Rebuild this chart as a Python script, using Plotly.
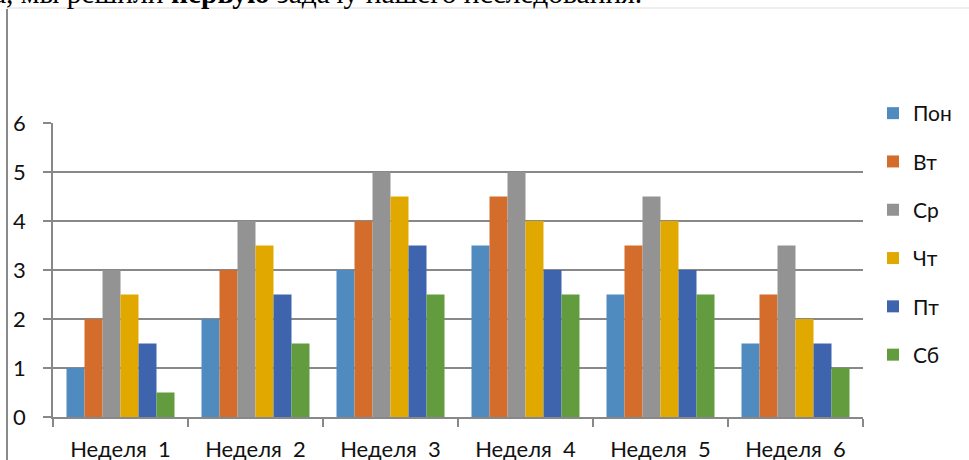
import plotly.graph_objects as go

weeks = ["Неделя  1", "Неделя  2", "Неделя  3", "Неделя  4", "Неделя  5", "Неделя  6"]
days = ["Пон", "Вт", "Ср", "Чт", "Пт", "Сб"]
mon = [1, 2, 3, 3.5, 2.5, 1.5]
tue = [2, 3, 4, 4.5, 3.5, 2.5]
wed = [3, 4, 5, 5, 4.5, 3.5]
thu = [2.5, 3.5, 4.5, 4, 4, 2]
fri = [1.5, 2.5, 3.5, 3, 3, 1.5]
sat = [0.5, 1.5, 2.5, 2.5, 2.5, 1]
series = [mon, tue, wed, thu, fri, sat]
colors = ["#508BBF", "#D46D2B", "#939393", "#E1A900", "#3E64AE", "#639B3F"]

W, H = 969, 460
L, R, T, B = 53, 863, 123, 417
FONT = "Lato"
GRID = "#888888"


def px(x):
    return (x - L) / (R - L)


def py(y):
    return (B - y) / (B - T)


fig = go.Figure()
for i, (name, vals) in enumerate(zip(days, series)):
    fig.add_trace(go.Bar(x=weeks, y=vals, name=name, marker_color=colors[i],
                         marker_line_width=0, legendgroup=name))

fig.update_layout(
    width=W, height=H,
    margin=dict(l=L, r=W - R, t=T, b=H - B, pad=0, autoexpand=False),
    paper_bgcolor="white", plot_bgcolor="white",
    barmode="group", bargap=0.2, bargroupgap=0,
    font=dict(family=FONT, size=22, color="#111111"),
    showlegend=True,
    legend=dict(x=px(873), y=py(93), xanchor="left", yanchor="top",
                tracegroupgap=18, font=dict(size=21), itemwidth=30,
                maxheight=440, bgcolor="rgba(0,0,0,0)"),
    xaxis=dict(showline=True, linecolor=GRID, linewidth=1.5, ticks="outside",
               ticklen=8, tickcolor=GRID, tickwidth=1.5, tickson="boundaries",
               ticklabelstandoff=12, showgrid=False, automargin=False),
    yaxis=dict(range=[0, 6], dtick=1, showline=True, linecolor=GRID, linewidth=1.5,
               ticks="outside", ticklen=8, tickcolor=GRID, tickwidth=1.5,
               showgrid=True, gridcolor=GRID, gridwidth=1.5, zeroline=False,
               ticklabelstandoff=13, automargin=False),
)

# document frame lines
fig.add_shape(type="line", xref="paper", yref="paper", x0=px(7), x1=px(7),
              y0=py(9), y1=py(470), line=dict(color="#8a8a8a", width=2))
fig.add_shape(type="line", xref="paper", yref="paper", x0=px(7), x1=px(980),
              y0=py(8), y1=py(8), line=dict(color="#dddddd", width=1))

# cut-off document text above the chart
fig.add_annotation(xref="paper", yref="paper", x=px(-9), y=py(11), xanchor="left",
                   yanchor="bottom", showarrow=False,
                   text="а, мы решили <b>первую</b> задачу нашего исследования.",
                   font=dict(family="Liberation Serif", size=29.5, color="black"))

fig.write_html("out.html", config={"displayModeBar": False},
               post_script="document.body.style.margin='0';"
                           "document.body.style.overflow='hidden';")
